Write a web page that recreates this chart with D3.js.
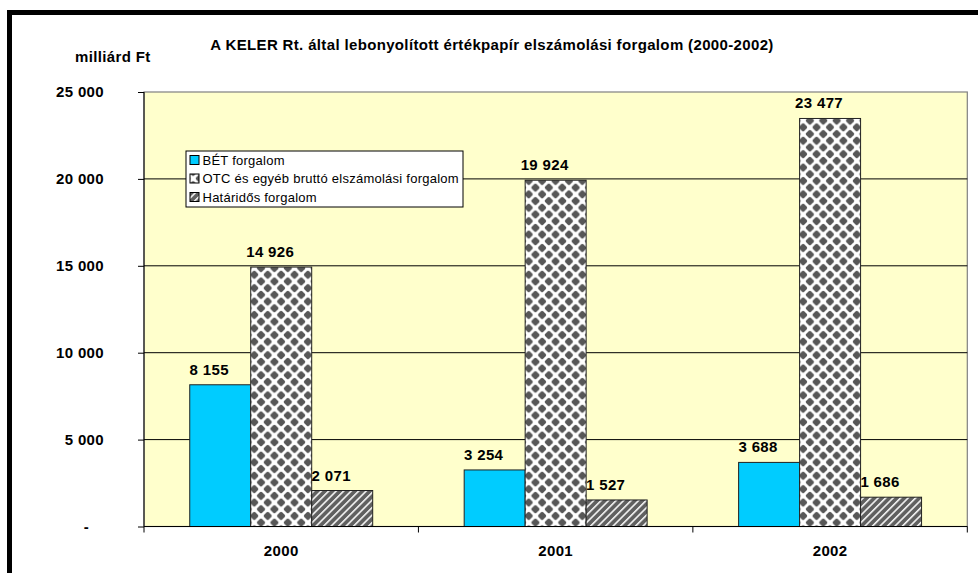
<!DOCTYPE html>
<html>
<head>
<meta charset="utf-8">
<script src="https://cdn.jsdelivr.net/npm/d3@7"></script>
<style>
  body { margin: 0; background: #fff; }
  text { font-family: "Liberation Sans", Arial, sans-serif; }
  .bold { font-weight: bold; font-size: 15px; letter-spacing: 0.35px; }
</style>
</head>
<body>
<div id="chart"></div>
<script>
// data (milliárd Ft)
const categories = ['2000', '2001', '2002'];
const seriesNames = ['BÉT forgalom', 'OTC és egyéb bruttó elszámolási forgalom', 'Határidős forgalom'];
const betValues = [8155, 3254, 3688];
const otcValues = [14926, 19924, 23477];
const hataridosValues = [2071, 1527, 1686];
const yTickValues = [0, 5000, 10000, 15000, 20000, 25000];

const W = 978, H = 573;
const PLOT = { LEFT: 144, RIGHT: 967.3, TOP: 92, BOTTOM: 526.5 };

const hu = d3.formatLocale({ decimal: ',', thousands: ' ', grouping: [3], currency: ['', ''] });
const fmt = v => v === 0 ? '-' : hu.format(',d')(v);

const svg = d3.select('#chart').append('svg')
    .attr('width', W)
    .attr('height', H);

// fill patterns
const defs = svg.append('defs');
const checker = defs.append('pattern')
    .attr('id', 'checker')
    .attr('patternUnits', 'userSpaceOnUse')
    .attr('width', 13.4).attr('height', 13.4)
    .attr('x', 251).attr('y', 0);
checker.append('rect').attr('width', 13.4).attr('height', 13.4).attr('fill', '#fff');
[[0, 0], [13.4, 0], [0, 13.4], [13.4, 13.4], [6.7, 6.7]].forEach(([cx, cy]) => {
    checker.append('rect')
        .attr('x', -3.3).attr('y', -3.3)
        .attr('width', 6.6).attr('height', 6.6)
        .attr('rx', 1.6)
        .attr('transform', `translate(${cx},${cy}) rotate(45)`)
        .attr('fill', '#575757');
});

const stripes = defs.append('pattern')
    .attr('id', 'stripes')
    .attr('patternUnits', 'userSpaceOnUse')
    .attr('width', 5.3).attr('height', 10)
    .attr('patternTransform', 'rotate(45)');
stripes.append('rect').attr('width', 5.3).attr('height', 10).attr('fill', '#606060');
stripes.append('rect').attr('width', 1.6).attr('height', 10).attr('fill', '#f4f4f4');

const fills = ['#00CCFF', 'url(#checker)', 'url(#stripes)'];

// outer frame (cropped at right and bottom)
svg.append('rect')
    .attr('x', 9.5).attr('y', 12.5)
    .attr('width', W + 20).attr('height', H + 20)
    .attr('fill', 'none')
    .attr('stroke', '#000')
    .attr('stroke-width', 5);

// scales
const x0 = d3.scaleBand()
    .domain(categories)
    .range([PLOT.LEFT, PLOT.RIGHT]);
const x1 = d3.scaleBand()
    .domain(seriesNames)
    .range([0, x0.bandwidth()])
    .paddingOuter(0.75);
const y = d3.scaleLinear()
    .domain([0, 25000])
    .range([PLOT.BOTTOM, PLOT.TOP]);

// plot area
svg.append('rect')
    .attr('x', PLOT.LEFT).attr('y', PLOT.TOP)
    .attr('width', PLOT.RIGHT - PLOT.LEFT)
    .attr('height', PLOT.BOTTOM - PLOT.TOP)
    .attr('fill', '#FFFFCC')
    .attr('stroke', '#808080')
    .attr('stroke-width', 1.2);

// gridlines
svg.append('g')
    .selectAll('line')
    .data(yTickValues.filter(v => v > 0 && v < 25000))
    .enter()
    .append('line')
    .attr('x1', PLOT.LEFT).attr('x2', PLOT.RIGHT)
    .attr('y1', d => y(d)).attr('y2', d => y(d))
    .attr('stroke', '#000')
    .attr('stroke-width', 1);

// bars
const rows = categories.map((c, i) => ({
    cat: c,
    vals: [betValues[i], otcValues[i], hataridosValues[i]]
}));

const LABEL_SHIFT = -11;
const groups = svg.append('g')
    .selectAll('g')
    .data(rows)
    .enter()
    .append('g')
    .attr('transform', d => `translate(${x0(d.cat)},0)`);

groups.selectAll('rect')
    .data(d => d.vals.map((v, j) => ({ name: seriesNames[j], v: v, j: j })))
    .enter()
    .append('rect')
    .attr('x', d => x1(d.name))
    .attr('y', d => y(d.v))
    .attr('width', x1.bandwidth())
    .attr('height', d => y(0) - y(d.v))
    .attr('fill', d => fills[d.j])
    .attr('stroke', '#222')
    .attr('stroke-width', 1);

groups.selectAll('text')
    .data(d => d.vals.map((v, j) => ({ name: seriesNames[j], v: v })))
    .enter()
    .append('text')
    .attr('class', 'bold')
    .attr('x', d => x1(d.name) + x1.bandwidth() / 2 + LABEL_SHIFT)
    .attr('y', d => y(d.v) - 10)
    .attr('text-anchor', 'middle')
    .text(d => fmt(d.v));

// y axis
const yAxis = d3.axisLeft(y)
    .tickValues(yTickValues)
    .tickSize(6)
    .tickFormat(() => '');
const gy = svg.append('g')
    .attr('transform', `translate(${PLOT.LEFT},0)`)
    .call(yAxis);
gy.select('.domain').attr('stroke', '#000').attr('d', `M0,${PLOT.TOP}V${PLOT.BOTTOM}`);
gy.selectAll('.tick line').attr('stroke', '#000');

svg.append('g')
    .selectAll('text')
    .data(yTickValues)
    .enter()
    .append('text')
    .attr('class', 'bold')
    .attr('x', d => d === 0 ? 89 : 104)
    .attr('y', d => y(d) + 5)
    .attr('text-anchor', 'end')
    .text(fmt);

// x axis
svg.append('line')
    .attr('x1', PLOT.LEFT).attr('x2', PLOT.RIGHT)
    .attr('y1', PLOT.BOTTOM).attr('y2', PLOT.BOTTOM)
    .attr('stroke', '#000');
const bounds = categories.map(c => x0(c)).concat([PLOT.RIGHT]);
svg.append('g')
    .selectAll('line')
    .data(bounds)
    .enter()
    .append('line')
    .attr('x1', d => d).attr('x2', d => d)
    .attr('y1', PLOT.BOTTOM).attr('y2', PLOT.BOTTOM + 6)
    .attr('stroke', '#000');
svg.append('g')
    .selectAll('text')
    .data(categories)
    .enter()
    .append('text')
    .attr('class', 'bold')
    .attr('x', d => x0(d) + x0.bandwidth() / 2)
    .attr('y', 556)
    .attr('text-anchor', 'middle')
    .text(d => d);

// titles
svg.append('text')
    .attr('class', 'bold')
    .attr('x', 492).attr('y', 50)
    .attr('text-anchor', 'middle')
    .text('A KELER Rt. által lebonyolított értékpapír elszámolási forgalom (2000-2002)');
svg.append('text')
    .attr('class', 'bold')
    .attr('x', 75).attr('y', 62)
    .text('milliárd Ft');

// legend
const legend = svg.append('g').attr('transform', 'translate(186,151)');
legend.append('rect')
    .attr('width', 277).attr('height', 56)
    .attr('fill', '#fff')
    .attr('stroke', '#000');
const items = legend.selectAll('g')
    .data(seriesNames)
    .enter()
    .append('g')
    .attr('transform', (d, i) => `translate(4,${9 + i * 18.5})`);
items.append('rect')
    .attr('x', 0).attr('y', -4.5)
    .attr('width', 9).attr('height', 9)
    .attr('fill', (d, i) => fills[i])
    .attr('stroke', '#000');
items.append('text')
    .attr('x', 12.5).attr('y', 4.5)
    .attr('font-size', 13)
    .attr('letter-spacing', 0.25)
    .text(d => d);
</script>
</body>
</html>
